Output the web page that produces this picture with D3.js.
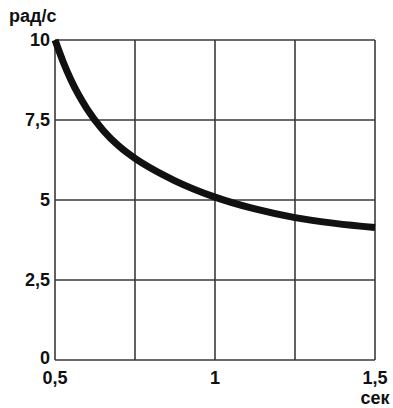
<!DOCTYPE html>
<html><head><meta charset="utf-8">
<script src="https://cdn.jsdelivr.net/npm/d3@7"></script>
<style>body{margin:0;background:#fff}svg{display:block}text{font-family:"Liberation Sans",Arial,sans-serif;font-weight:bold;fill:#111}</style>
</head><body>
<script>
const tValues = [0.5, 0.525, 0.55, 0.6, 0.65, 0.7, 0.75, 0.8, 0.875, 1.0, 1.125, 1.25, 1.375, 1.5];
const omegaValues = [10, 9.33, 8.75, 7.85, 7.18, 6.68, 6.3, 5.99, 5.6, 5.09, 4.72, 4.45, 4.27, 4.14];
const xTicks = [0.5, 0.75, 1, 1.25, 1.5];
const xTickLabels = ["0,5", "", "1", "", "1,5"];
const yTicks = [0, 2.5, 5, 7.5, 10];
const yTickLabels = ["0", "2,5", "5", "7,5", "10"];
const yUnit = "рад/с";
const xUnit = "сек";

const W = 393, H = 408;
const svg = d3.select("body").append("svg").attr("width", W).attr("height", H);
const x = d3.scaleLinear().domain([0.5, 1.5]).range([55, 375]);
const y = d3.scaleLinear().domain([0, 10]).range([360, 40]);

const grid = svg.append("g").attr("stroke", "#3a3a3a").attr("stroke-width", 1.6);
xTicks.forEach(t => grid.append("line").attr("x1", x(t)).attr("x2", x(t)).attr("y1", y(0)).attr("y2", y(10)));
yTicks.forEach(v => grid.append("line").attr("x1", x(0.5)).attr("x2", x(1.5)).attr("y1", y(v)).attr("y2", y(v)));

svg.append("g").selectAll("text").data(yTicks).join("text")
  .attr("x", 50).attr("y", d => y(d) + 6).attr("text-anchor", "end")
  .attr("font-size", 18).text((d, i) => yTickLabels[i])
  .attr("dy", d => d === 0 ? -2 : 0);

svg.append("g").selectAll("text").data(xTicks).join("text")
  .attr("x", d => x(d)).attr("y", 384).attr("text-anchor", "middle")
  .attr("font-size", 18).text((d, i) => xTickLabels[i]);

svg.append("text").attr("x", 9).attr("y", 22).attr("font-size", 18).text(yUnit);
svg.append("text").attr("x", 375).attr("y", 404).attr("text-anchor", "middle").attr("font-size", 18).text(xUnit);

const line = d3.line().x((d, i) => x(tValues[i])).y(d => y(d)).curve(d3.curveMonotoneX);
svg.append("path").datum(omegaValues).attr("d", line)
  .attr("fill", "none").attr("stroke", "#111").attr("stroke-width", 7).attr("stroke-linecap", "butt");
</script>
</body></html>
